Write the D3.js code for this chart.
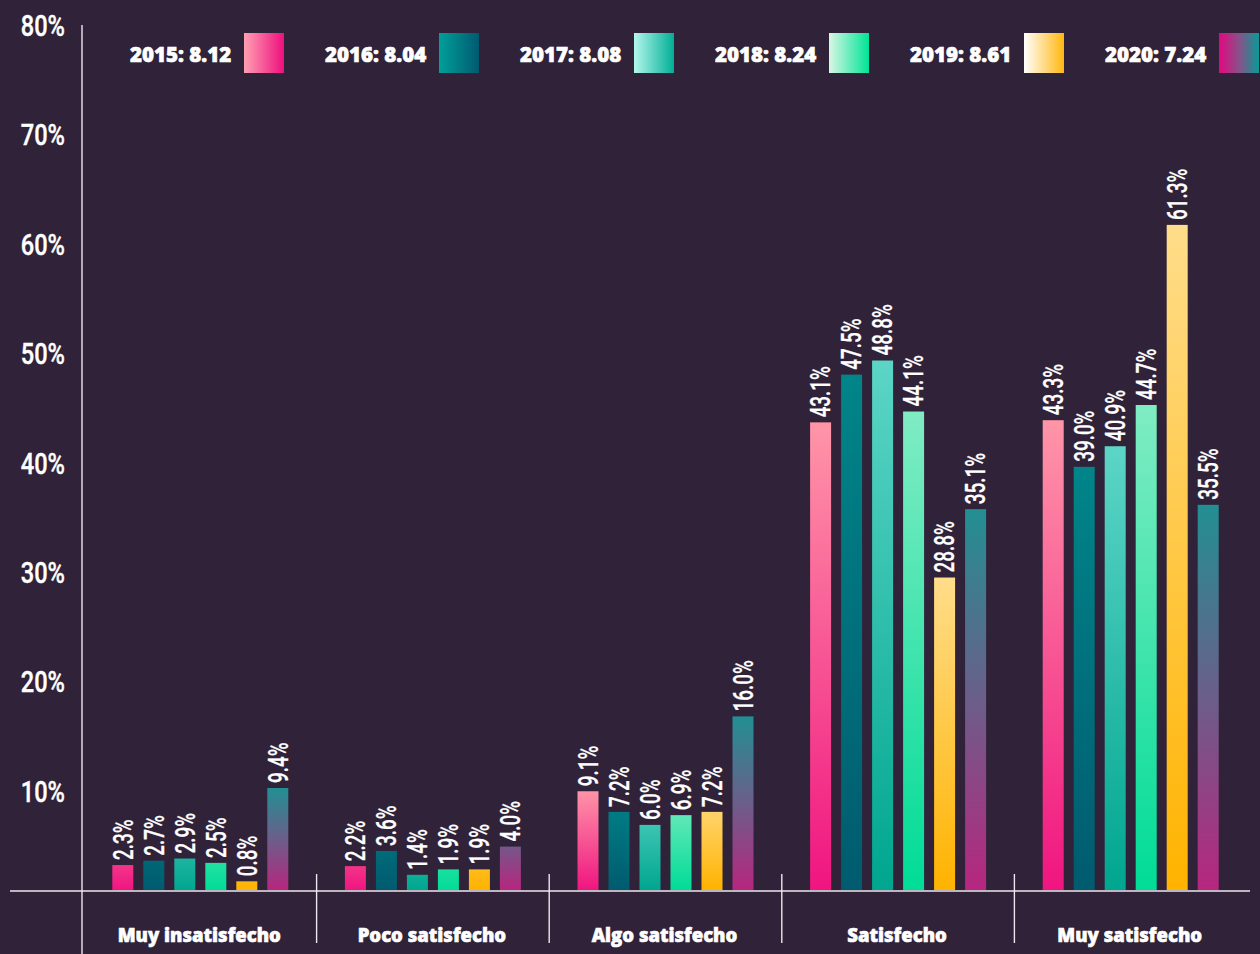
<!DOCTYPE html>
<html>
<head>
<meta charset="utf-8">
<script src="https://cdn.jsdelivr.net/npm/d3@7"></script>
<style>
  html, body { margin: 0; padding: 0; background: #302238; }
  svg { display: block; }
</style>
</head>
<body>
<svg id="chart" width="1260" height="954"></svg>
<script>
////////////////////////////////////////////////////////////////////////////////
// Data
var categories = ["Muy insatisfecho", "Poco satisfecho", "Algo satisfecho", "Satisfecho", "Muy satisfecho"]
var years = ["2015", "2016", "2017", "2018", "2019", "2020"]
var averages = ["8.12", "8.04", "8.08", "8.24", "8.61", "7.24"]

var values2015 = [2.3, 2.2, 9.1, 43.1, 43.3]
var values2016 = [2.7, 3.6, 7.2, 47.5, 39.0]
var values2017 = [2.9, 1.4, 6.0, 48.8, 40.9]
var values2018 = [2.5, 1.9, 6.9, 44.1, 44.7]
var values2019 = [0.8, 1.9, 7.2, 28.8, 61.3]
var values2020 = [9.4, 4.0, 16.0, 35.1, 35.5]
var series = [values2015, values2016, values2017, values2018, values2019, values2020]

var yTicks = [10, 20, 30, 40, 50, 60, 70, 80]

// bar colours (top -> bottom) and legend colours (left -> right)
var barStops = [
  ["#ff95a8", "#f01580"],
  ["#008589", "#005b6f"],
  ["#5cd5c6", "#00a68f"],
  ["#80ecc3", "#00dc96"],
  ["#ffdd8a", "#ffb300"],
  ["#228f93", "#6b5e8a", "#b7267f"]
]
var legendStops = [
  ["#ffa0b2", "#ee0f7f"],
  ["#00a09a", "#005a70"],
  ["#b4f7ec", "#00ae96"],
  ["#d8f6e4", "#00e497"],
  ["#ffffff", "#ffb70f"],
  ["#e2077f", "#8a5088", "#0a9a96"]
]

////////////////////////////////////////////////////////////////////////////////
// Layout
var baseY = 890
var condensed = "Roboto, 'DejaVu Sans', sans-serif"
var heavy = "'Open Sans', Lato, sans-serif"

var svg = d3.select("#chart")
var defs = svg.append("defs")

var y = d3.scaleLinear().domain([0, 80]).range([baseY, 22])
var x = d3.scaleBand().domain(categories).range([84, 1247])
var xInner = d3.scaleBand().domain(years).range([0, x.bandwidth()])
  .paddingInner(10 / 31).paddingOuter(0.913)

function addStops(grad, stops) {
  grad.selectAll("stop")
    .data(stops)
    .join("stop")
    .attr("offset", (d, i) => i / (stops.length - 1))
    .attr("stop-color", d => d)
}

// legend gradients (horizontal)
legendStops.forEach(function(stops, i) {
  var g = defs.append("linearGradient").attr("id", "leg" + i)
    .attr("x1", 0).attr("y1", 0).attr("x2", 1).attr("y2", 0)
  addStops(g, stops)
})

////////////////////////////////////////////////////////////////////////////////
// Axes lines
svg.append("line")
  .attr("x1", 10).attr("x2", 1250)
  .attr("y1", baseY + 1).attr("y2", baseY + 1)
  .attr("stroke", "#ece8ee").attr("stroke-width", 1.6)

svg.append("line")
  .attr("x1", 82).attr("x2", 82)
  .attr("y1", 25).attr("y2", 954)
  .attr("stroke", "#ece8ee").attr("stroke-width", 1.4)

svg.selectAll(".sep")
  .data(categories.slice(1))
  .join("line")
  .attr("class", "sep")
  .attr("x1", d => x(d)).attr("x2", d => x(d))
  .attr("y1", 874).attr("y2", 943)
  .attr("stroke", "#ece8ee").attr("stroke-width", 1.4)

// y tick labels (slightly lower than the scale, as in the original artwork)
svg.selectAll(".ytick")
  .data(yTicks)
  .join("text")
  .attr("class", "ytick")
  .attr("transform", d => "translate(65," + (y(d) + 10.5 - d * 0.09) + ") scale(0.8,1)")
  .attr("text-anchor", "end")
  .attr("dy", "0.36em")
  .attr("fill", "#ffffff")
  .attr("stroke", "#ffffff").attr("stroke-width", 0.4)
  .attr("font-family", condensed)
  .attr("font-weight", 500)
  .attr("font-size", 29.5)
  .text(d => d + "%")

// category labels
svg.selectAll(".cat")
  .data(categories)
  .join("text")
  .attr("class", "cat")
  .attr("x", d => x(d) + x.bandwidth() / 2 - 1)
  .attr("y", 942)
  .attr("text-anchor", "middle")
  .attr("fill", "#ffffff")
  .attr("stroke", "#ffffff").attr("stroke-width", 0.6)
  .attr("font-family", heavy)
  .attr("font-weight", 800)
  .attr("font-size", 18.5)
  .text(d => d)

////////////////////////////////////////////////////////////////////////////////
// Bars
var barData = []
categories.forEach(function(cat, ci) {
  years.forEach(function(yr, si) {
    barData.push({cat: cat, year: yr, s: si, v: series[si][ci], id: "b" + ci + "_" + si})
  })
})

// each bar gets its own gradient; short bars only show the lower part of it
barData.forEach(function(d) {
  var h = baseY - y(d.v)
  var span = Math.max(h, 100)
  var g = defs.append("linearGradient").attr("id", d.id)
    .attr("x1", 0).attr("x2", 0)
    .attr("y1", 1 - span / h).attr("y2", 1)
  addStops(g, barStops[d.s])
})

var bars = svg.append("g")
bars.selectAll("rect")
  .data(barData)
  .join("rect")
  .attr("x", d => x(d.cat) + xInner(d.year))
  .attr("y", d => y(d.v))
  .attr("width", xInner.bandwidth())
  .attr("height", d => baseY - y(d.v))
  .attr("fill", d => "url(#" + d.id + ")")

bars.selectAll("text")
  .data(barData)
  .join("text")
  .attr("transform", d => "translate(" + (x(d.cat) + xInner(d.year) + xInner.bandwidth() / 2) + "," + (y(d.v) - 5) + ") rotate(-90) scale(0.7,1)")
  .attr("dy", "0.36em")
  .attr("fill", "#ffffff")
  .attr("stroke", "#ffffff").attr("stroke-width", 0.3)
  .attr("font-family", condensed)
  .attr("font-weight", 500)
  .attr("font-size", 27)
  .text(d => d.v.toFixed(1) + "%")

////////////////////////////////////////////////////////////////////////////////
// Legend
var legend = svg.append("g")
var items = legend.selectAll("g")
  .data(years)
  .join("g")
  .attr("transform", (d, i) => "translate(" + (130 + 195 * i) + ",0)")

items.append("text")
  .attr("x", 0).attr("y", 62)
  .attr("fill", "#ffffff")
  .attr("stroke", "#ffffff").attr("stroke-width", 0.6)
  .attr("font-family", heavy)
  .attr("font-weight", 800)
  .attr("font-size", 20.5)
  .text((d, i) => d + ": " + averages[i])

items.append("rect")
  .attr("x", 114).attr("y", 33)
  .attr("width", 40).attr("height", 40)
  .attr("fill", (d, i) => "url(#leg" + i + ")")
</script>
</body>
</html>
